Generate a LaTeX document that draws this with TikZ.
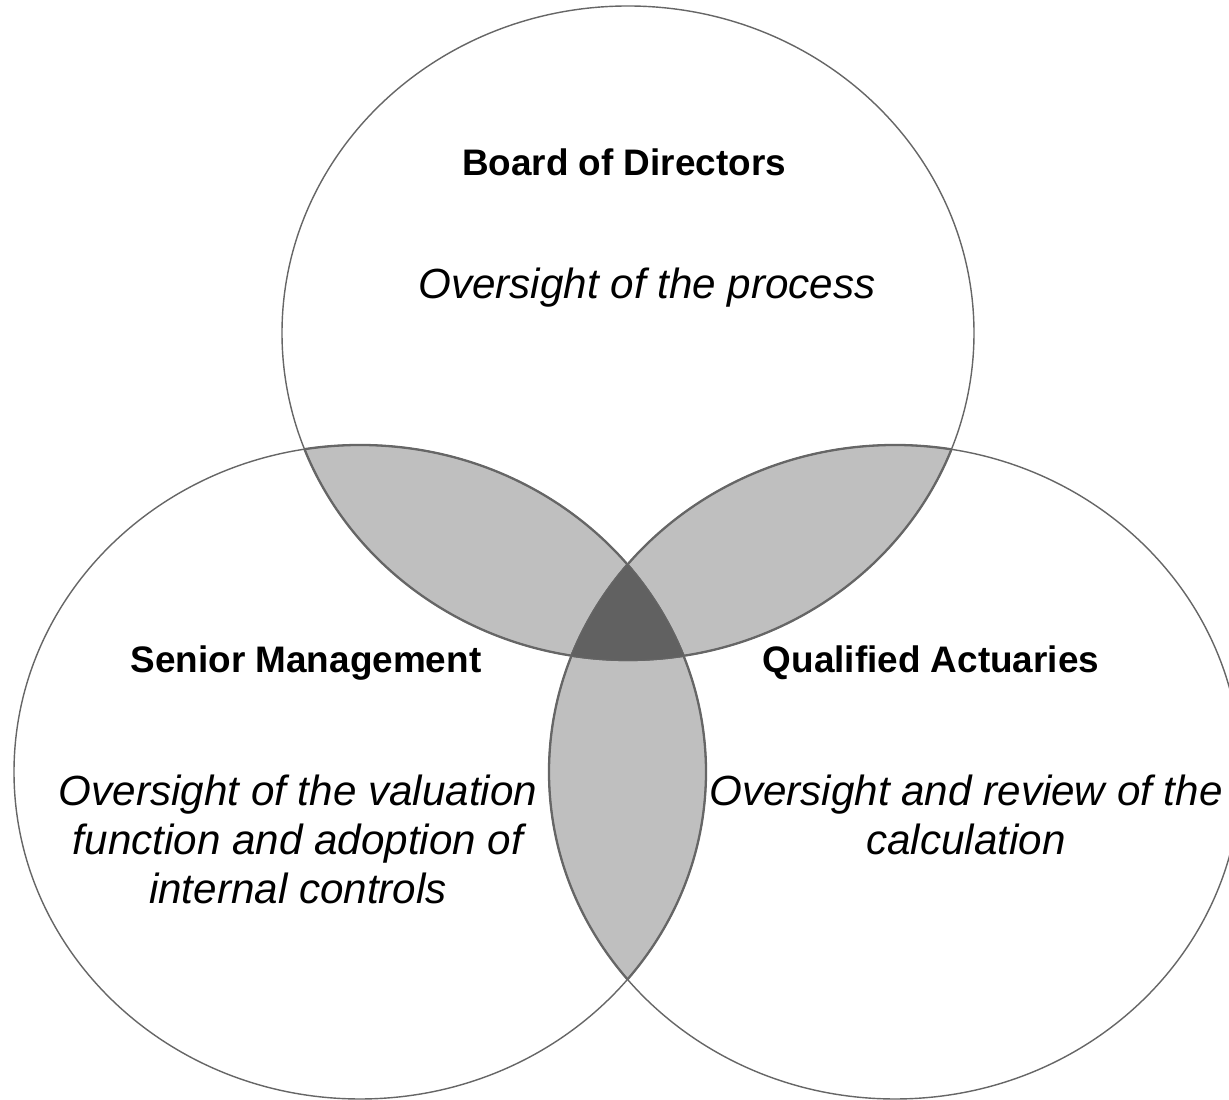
\documentclass[tikz,border=0pt]{standalone}
\usepackage{fontspec}
\setmainfont{Liberation Sans}
\usetikzlibrary{positioning}

\begin{document}
\begin{tikzpicture}[
    title/.style={font=\bfseries\fontsize{10.5}{12}\selectfont, inner sep=0pt},
    note/.style={font=\itshape\fontsize{12}{13.9}\selectfont, align=center, inner sep=0pt},
    lens/.style={fill=black!25},
    core/.style={fill=black!62},
    ring/.style={draw=black!60, line width=0.4pt},
    edge/.style={draw=black!60, line width=0.65pt}
]
    \useasboundingbox (0,0) rectangle (12.29,11);
    \clip (0,0) rectangle (12.29,11);

    % Circle centres
    \coordinate (bd) at (6.28,7.67);
    \coordinate (sm) at (3.60,3.28);
    \coordinate (qa) at (8.95,3.28);

    % Overlaps of two circles
    \begin{scope}
        \clip (bd) ellipse (3.46 and 3.27);
        \fill[lens] (sm) ellipse (3.46 and 3.27);
        \fill[lens] (qa) ellipse (3.46 and 3.27);
    \end{scope}
    \begin{scope}
        \clip (sm) ellipse (3.46 and 3.27);
        \fill[lens] (qa) ellipse (3.46 and 3.27);
    \end{scope}

    % Outlines
    \foreach \c in {bd,sm,qa}
        \draw[ring] (\c) ellipse (3.46 and 3.27);

    % Heavier edges round the grey overlaps
    \begin{scope}
        \clip (bd) ellipse (3.46 and 3.27);
        \draw[edge] (sm) ellipse (3.46 and 3.27);
        \draw[edge] (qa) ellipse (3.46 and 3.27);
    \end{scope}
    \begin{scope}
        \clip (sm) ellipse (3.46 and 3.27);
        \draw[edge] (bd) ellipse (3.46 and 3.27);
        \draw[edge] (qa) ellipse (3.46 and 3.27);
    \end{scope}
    \begin{scope}
        \clip (qa) ellipse (3.46 and 3.27);
        \draw[edge] (bd) ellipse (3.46 and 3.27);
        \draw[edge] (sm) ellipse (3.46 and 3.27);
    \end{scope}

    % Middle, where all three meet
    \begin{scope}
        \clip (bd) ellipse (3.46 and 3.27);
        \clip (sm) ellipse (3.46 and 3.27);
        \fill[core] (qa) ellipse (3.46 and 3.27);
    \end{scope}

    % Labels
    \node[title, anchor=base] (board) at (6.24,9.24) {Board of Directors};
    \node[note, below=0.9cm of board, xshift=0.23cm] (boardtxt) {Oversight of the process};

    \node[title, anchor=base] (mgmt) at (3.06,4.27) {Senior Management};
    \node[note, below=0.93cm of mgmt, xshift=-0.08cm] (mgmttxt)
        {Oversight of the valuation\\function and adoption of\\internal controls};

    \node[title, anchor=base] (act) at (9.31,4.27) {Qualified Actuaries};
    \node[note, below=0.93cm of act, xshift=0.35cm] (acttxt)
        {Oversight and review of the\\calculation};

\end{tikzpicture}
\end{document}
